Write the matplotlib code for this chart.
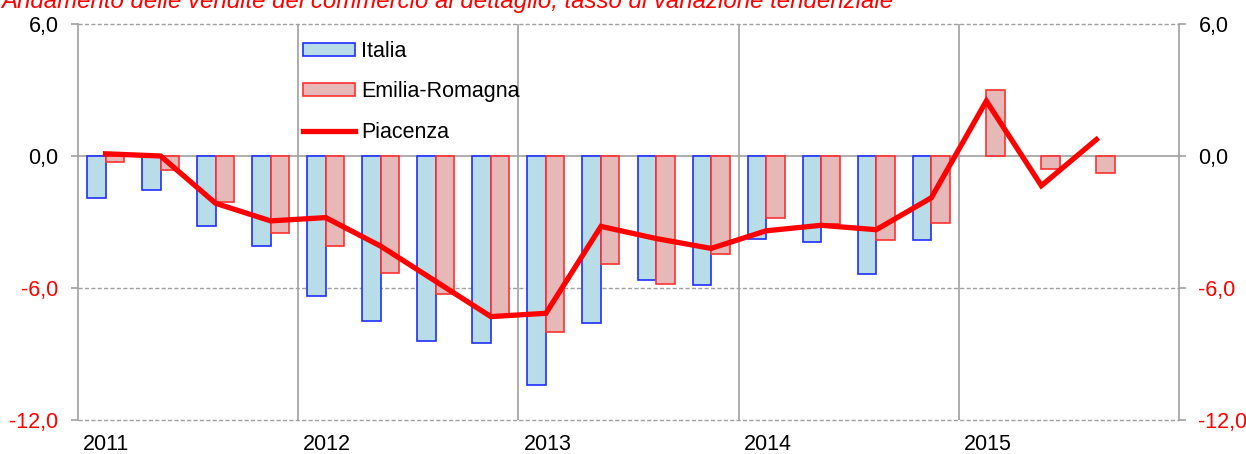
import matplotlib
matplotlib.use("Agg")
import matplotlib.pyplot as plt
import numpy as np
from matplotlib.patches import Patch
from matplotlib.lines import Line2D

plt.rcParams['font.family'] = ['Liberation Sans', 'DejaVu Sans']

title = "Andamento delle vendite del commercio al dettaglio, tasso di variazione tendenziale"
quarters = ["2011T1", "2011T2", "2011T3", "2011T4",
            "2012T1", "2012T2", "2012T3", "2012T4",
            "2013T1", "2013T2", "2013T3", "2013T4",
            "2014T1", "2014T2", "2014T3", "2014T4",
            "2015T1", "2015T2", "2015T3"]
italia = [-1.9, -1.55, -3.2, -4.1, -6.35, -7.5, -8.4, -8.5, -10.4, -7.6,
          -5.65, -5.85, -3.75, -3.9, -5.35, -3.8, np.nan, np.nan, np.nan]
emilia = [-0.25, -0.65, -2.1, -3.5, -4.1, -5.3, -6.25, -7.25, -8.0, -4.9,
          -5.8, -4.45, -2.8, -3.1, -3.8, -3.05, 3.0, -0.6, -0.75]
piacenza = [0.1, 0.0, -2.15, -2.95, -2.8, -4.1, -5.7, -7.3, -7.15, -3.2,
            -3.75, -4.2, -3.4, -3.15, -3.35, -1.9, 2.5, -1.35, 0.75]
years = ["2011", "2012", "2013", "2014", "2015"]
yticks = [6.0, 0.0, -6.0, -12.0]

W, H = 1246, 454
fig = plt.figure(figsize=(W / 100, H / 100), dpi=100)
ax = fig.add_axes([78 / W, 1 - 420 / H, (1179 - 78) / W, (420 - 24) / H])

n_slots = 20
x = np.arange(len(quarters)) + 0.5
bw = 0.336
ax.bar(x - bw / 2, italia, width=bw, color='#B8DDE8', edgecolor='#1F2FFF',
       linewidth=1.2, zorder=3, label='Italia')
ax.bar(x + bw / 2, emilia, width=bw, color='#E6B8B8', edgecolor='#FF3030',
       linewidth=1.2, zorder=3, label='Emilia-Romagna')
ax.plot(x, piacenza, color='#FF0000', linewidth=3.8, zorder=4,
        solid_joinstyle='miter', label='Piacenza')

ax.set_xlim(0, n_slots)
ax.set_ylim(-12, 6)

grid_c = '#A0A0A0'
for yv in [6, -6, -12]:
    ax.axhline(yv, color=grid_c, linewidth=1, linestyle=(0, (3, 1.6)),
               zorder=1, clip_on=False)
ax.axhline(0, color=grid_c, linewidth=1.2, zorder=2)
for k in range(1, 5):
    ax.axvline(4 * k, color=grid_c, linewidth=1.2, zorder=1)

for s in ['top', 'bottom']:
    ax.spines[s].set_visible(False)
for s in ['left', 'right']:
    ax.spines[s].set_color(grid_c)
    ax.spines[s].set_linewidth(1.2)

ax.set_xticks([])
ax.set_yticks(yticks)
labels = [f"{v:.1f}".replace('.', ',') for v in yticks]
ax.set_yticklabels(labels)
ax.tick_params(axis='y', which='both', left=True, right=True, labelleft=True,
               labelright=True, length=5, width=1.2, color=grid_c, pad=9,
               labelsize=15.5)
for t, v in zip(ax.yaxis.get_major_ticks(), yticks):
    c = '#FF0000' if v < 0 else '#000000'
    t.label1.set_color(c)
    t.label2.set_color(c)

for k, yl in enumerate(years):
    ax.annotate(yl, xy=(4 * k, 0), xycoords=('data', 'axes fraction'),
                xytext=(5, -14), textcoords='offset pixels', ha='left',
                va='top', fontsize=15.5, color='#000000')

handles = [Patch(facecolor='#B8DDE8', edgecolor='#1F2FFF', linewidth=1.2),
           Patch(facecolor='#E6B8B8', edgecolor='#FF3030', linewidth=1.2),
           Line2D([0], [0], color='#FF0000', linewidth=3.8)]
leg = ax.legend(handles, ['Italia', 'Emilia-Romagna', 'Piacenza'],
                loc='upper left',
                bbox_to_anchor=((303 - 78) / (1179 - 78), 1 - (41 - 24) / 396),
                frameon=False, fontsize=15.5, handlelength=2.4, handleheight=0.55,
                handletextpad=0.3, labelspacing=0.9, borderpad=0, borderaxespad=0)

fig.text(1 / W, 1 - 8 / H, title, color='#FF0000', fontsize=17.3,
         fontstyle='italic', ha='left', va='baseline')

fig.savefig('out.png', dpi=100, facecolor='white')
